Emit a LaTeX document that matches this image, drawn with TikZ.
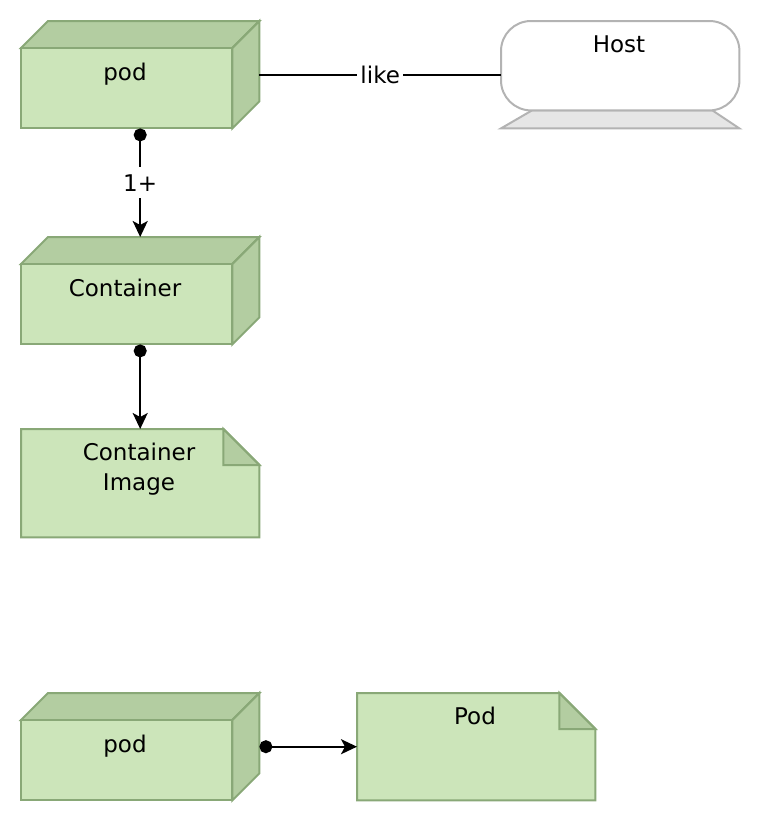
\documentclass[tikz,border=0pt]{standalone}
\usepackage{fontspec}
\setmainfont{DejaVu Sans}
\usetikzlibrary{arrows.meta,calc}
\definecolor{gfill}{HTML}{CCE5BA}
\definecolor{gdark}{HTML}{B3CDA1}
\definecolor{gline}{HTML}{89A877}
\definecolor{hline}{HTML}{B3B3B3}
\definecolor{hbase}{HTML}{E6E6E6}
\tikzset{
  boxarea/.style={draw=none, inner sep=0pt, minimum width=238pt, minimum height=107pt, anchor=north west},
  gshape/.style={draw=gline, fill=gfill, line width=2pt, line join=miter},
  gshade/.style={draw=gline, fill=gdark, line width=2pt, line join=miter},
  txt/.style={font=\fontsize{23}{30}\selectfont, anchor=base, inner sep=0pt, align=center},
  lbl/.style={font=\fontsize{23}{30}\selectfont, fill=white, inner xsep=3pt, inner ysep=7pt},
  conn/.style={line width=2pt, {Circle[length=13pt]}-{Stealth[length=16pt,width=15pt,inset=4pt]}},
  plain/.style={line width=2pt},
}
\begin{document}
\begin{tikzpicture}[x=1pt,y=-1pt]
\useasboundingbox (0,0) rectangle (760,822);

% cube pod (top)
\node[boxarea] (pod) at (21,21) {};
\draw[gshade] ($(pod.north west)+(0,27)$) -- ($(pod.north west)+(27,0)$) -- (pod.north east) -- ($(pod.north east)+(-27,27)$) -- cycle;
\draw[gshade] ($(pod.north east)+(-27,27)$) -- (pod.north east) -- ($(pod.south east)+(0,-27)$) -- ($(pod.south east)+(-27,0)$) -- cycle;
\draw[gshape] ($(pod.north west)+(0,27)$) rectangle ($(pod.south east)+(-27,0)$);
\node[txt] (podt) at (125,80) {pod};

% cube container
\node[boxarea] (cont) at (21,237) {};
\draw[gshade] ($(cont.north west)+(0,27)$) -- ($(cont.north west)+(27,0)$) -- (cont.north east) -- ($(cont.north east)+(-27,27)$) -- cycle;
\draw[gshade] ($(cont.north east)+(-27,27)$) -- (cont.north east) -- ($(cont.south east)+(0,-27)$) -- ($(cont.south east)+(-27,0)$) -- cycle;
\draw[gshape] ($(cont.north west)+(0,27)$) rectangle ($(cont.south east)+(-27,0)$);
\node[txt] (contt) at (125,296) {Container};

% note container image
\node[boxarea, minimum height=108pt] (img) at (21,429) {};
\draw[gshape] (img.north west) -- ($(img.north east)+(-36,0)$) -- ($(img.north east)+(0,36)$) -- (img.south east) -- (img.south west) -- cycle;
\draw[gshade] ($(img.north east)+(-36,0)$) -- ($(img.north east)+(-36,36)$) -- ($(img.north east)+(0,36)$) -- cycle;
\node[txt] (imgt) at (139,490) {Container\\Image};

% host
\node[boxarea] (host) at (501,21) {};
\draw[draw=hline, fill=hbase, line width=2pt] ($(host.south west)+(31,-18)$) -- ($(host.south east)+(-27,-18)$) -- (host.south east) -- (host.south west) -- cycle;
\draw[draw=hline, fill=white, line width=2pt, rounded corners=30pt] (host.north west) rectangle ($(host.south east)+(0,-18)$);
\node[txt] (hostt) at (619,52) {Host};

% cube pod (bottom)
\node[boxarea] (pod2) at (21,693) {};
\draw[gshade] ($(pod2.north west)+(0,27)$) -- ($(pod2.north west)+(27,0)$) -- (pod2.north east) -- ($(pod2.north east)+(-27,27)$) -- cycle;
\draw[gshade] ($(pod2.north east)+(-27,27)$) -- (pod2.north east) -- ($(pod2.south east)+(0,-27)$) -- ($(pod2.south east)+(-27,0)$) -- cycle;
\draw[gshape] ($(pod2.north west)+(0,27)$) rectangle ($(pod2.south east)+(-27,0)$);
\node[txt] (pod2t) at (125,752) {pod};

% note Pod
\node[boxarea] (note) at (357,693) {};
\draw[gshape] (note.north west) -- ($(note.north east)+(-36,0)$) -- ($(note.north east)+(0,36)$) -- (note.south east) -- (note.south west) -- cycle;
\draw[gshade] ($(note.north east)+(-36,0)$) -- ($(note.north east)+(-36,36)$) -- ($(note.north east)+(0,36)$) -- cycle;
\node[txt] (notet) at (475,724) {Pod};

% connectors
\draw[plain] (pod.east) -- node[lbl] (likel) {like} (host.west);
\draw[conn] (pod.south) -- node[lbl] (onel) {1+} (cont.north);
\draw[conn] (cont.south) -- (img.north);
\draw[conn] (pod2.east) -- (note.west);
\end{tikzpicture}
\end{document}
